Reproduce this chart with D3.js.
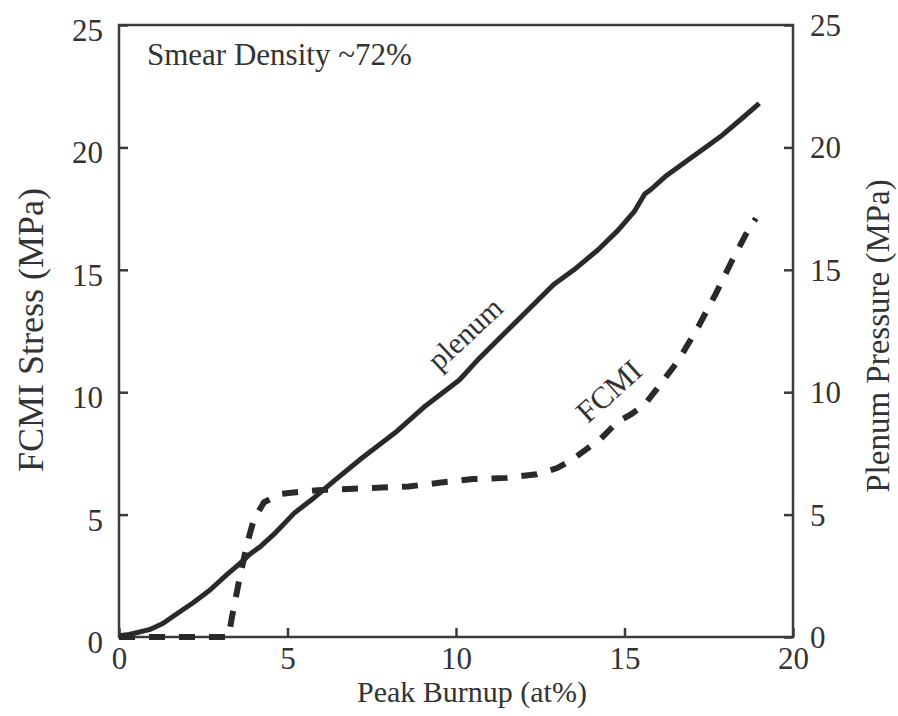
<!DOCTYPE html>
<html>
<head>
<meta charset="utf-8">
<script src="https://cdn.jsdelivr.net/npm/d3@7"></script>
<style>
  body { margin: 0; background: #fff; }
  text { font-family: "Liberation Serif", "DejaVu Serif", serif; fill: #333; }
</style>
</head>
<body>
<div id="chart"></div>
<script>
// plenum pressure (solid), [burnup at%, MPa]
var plenumX = [0, 0.3, 0.9, 1.3, 1.75, 2.2, 2.7, 3.2, 3.6, 3.9, 4.2, 4.6, 5.2, 5.8, 6.4, 7.2, 8.2, 9.1, 10.1, 10.7, 11.8, 12.9, 13.5, 14.2, 14.8, 15.3, 15.6, 15.8, 16.2, 16.7, 17.4, 17.9, 18.5, 19.0];
var plenumY = [0.05, 0.1, 0.3, 0.55, 0.98, 1.4, 1.92, 2.55, 3.02, 3.4, 3.7, 4.2, 5.06, 5.7, 6.4, 7.3, 8.35, 9.45, 10.5, 11.4, 12.9, 14.4, 15.0, 15.8, 16.6, 17.4, 18.1, 18.3, 18.8, 19.3, 20.0, 20.5, 21.2, 21.8];

// FCMI stress (dashed)
var fcmiX = [0, 3.25, 3.35, 3.55, 3.8, 4.0, 4.3, 4.8, 5.9, 6.8, 8.6, 9.5, 10.5, 11.5, 12.4, 13.0, 13.4, 14.3, 14.8, 15.2, 15.6, 16.0, 16.6, 17.2, 17.7, 18.2, 18.7, 18.9];
var fcmiY = [0, 0, 0.8, 2.2, 3.8, 4.8, 5.5, 5.85, 6.0, 6.05, 6.15, 6.3, 6.45, 6.5, 6.65, 6.9, 7.2, 8.1, 8.8, 9.1, 9.5, 10.2, 11.3, 12.7, 14.0, 15.4, 16.7, 17.1];

var xTicks = [0, 5, 10, 15, 20];
var yTicks = [0, 5, 10, 15, 20, 25];

var w = 898, h = 716;
var marginLeft = 119, marginRight = 105, marginTop = 25, marginBottom = 79;
var contentsWidth = w - marginLeft - marginRight, contentsHeight = h - marginTop - marginBottom;
var axisColor = "#3e393d", lineColor = "#2b2a2b";

var svg = d3.select("#chart").append("svg")
  .attr("width", w)
  .attr("height", h);

var chartG = svg.append("g")
  .attr("transform", "translate(" + marginLeft + "," + marginTop + ")");

var xScale = d3.scaleLinear().domain([0, 20]).range([0, contentsWidth]);
var yScale = d3.scaleLinear().domain([0, 25]).range([contentsHeight, 0]);

// frame
chartG.append("rect")
  .attr("width", contentsWidth)
  .attr("height", contentsHeight)
  .style("fill", "none")
  .style("stroke", axisColor)
  .style("stroke-width", 2.5);

var xAxis = chartG.append("g")
  .attr("transform", "translate(0," + contentsHeight + ")")
  .call(d3.axisBottom(xScale).tickValues(xTicks).tickSizeInner(-9).tickSizeOuter(0).tickPadding(10));

var yAxis = chartG.append("g")
  .call(d3.axisLeft(yScale).tickValues(yTicks).tickSizeInner(-9).tickSizeOuter(0).tickPadding(16));

var yAxisR = chartG.append("g")
  .attr("transform", "translate(" + contentsWidth + ",0)")
  .call(d3.axisRight(yScale).tickValues(yTicks).tickSizeInner(-9).tickSizeOuter(0).tickPadding(17));

[xAxis, yAxis, yAxisR].forEach(function(ax) {
  ax.select(".domain").remove();
  ax.selectAll("line").style("stroke", axisColor).style("stroke-width", 2.5);
  ax.selectAll("text")
    .style("font-family", "Liberation Serif")
    .style("font-size", "31px")
    .style("fill", "#333");
});
yAxis.selectAll("text").attr("dy", "0.5em");
yAxisR.selectAll("text").attr("dy", "0.34em");

var line = d3.line()
  .x(function(d) { return xScale(d[0]); })
  .y(function(d) { return yScale(d[1]); })
  .curve(d3.curveLinear);

var plenumData = plenumX.map(function(x, i) { return [x, plenumY[i]]; });
var fcmiData = fcmiX.map(function(x, i) { return [x, fcmiY[i]]; });

chartG.append("path")
  .datum(fcmiData)
  .attr("d", line)
  .style("fill", "none")
  .style("stroke", lineColor)
  .style("stroke-width", 6)
  .style("stroke-dasharray", "16,14");

chartG.append("path")
  .datum(plenumData)
  .attr("d", line)
  .style("fill", "none")
  .style("stroke", lineColor)
  .style("stroke-width", 5)
  .style("stroke-linejoin", "round");

// annotations
chartG.append("text")
  .attr("x", 28)
  .attr("y", 40)
  .style("font-size", "31px")
  .text("Smear Density ~72%");

chartG.append("text")
  .attr("transform", "translate(" + (472 - marginLeft) + "," + (341 - marginTop) + ") rotate(-43)")
  .attr("text-anchor", "middle")
  .style("font-size", "30px")
  .text("plenum");

chartG.append("text")
  .attr("transform", "translate(" + (616 - marginLeft) + "," + (399 - marginTop) + ") rotate(-42)")
  .attr("text-anchor", "middle")
  .style("font-size", "31px")
  .text("FCMI");

// axis titles
svg.append("text")
  .attr("x", 357)
  .attr("y", 702)
  .style("font-size", "30px")
  .text("Peak Burnup (at%)");

svg.append("text")
  .attr("transform", "translate(43,330) rotate(-90)")
  .attr("text-anchor", "middle")
  .style("font-size", "36px")
  .text("FCMI Stress (MPa)");

svg.append("text")
  .attr("transform", "translate(889,336) rotate(-90)")
  .attr("text-anchor", "middle")
  .style("font-size", "33px")
  .text("Plenum Pressure (MPa)");
</script>
</body>
</html>
